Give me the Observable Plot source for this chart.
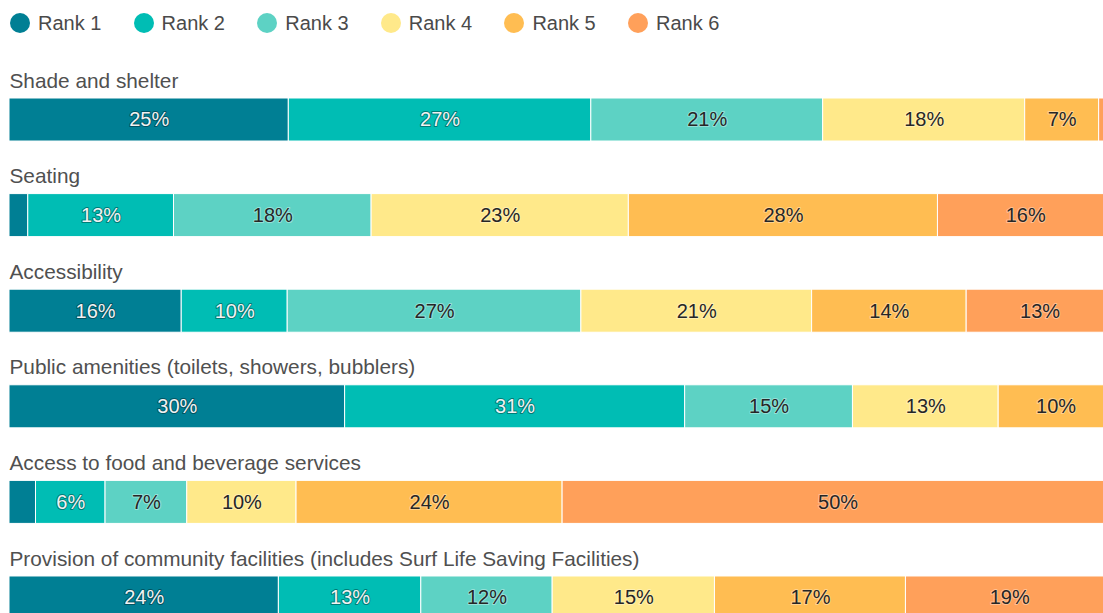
<!DOCTYPE html>
<html><head><meta charset="utf-8">
<script src="https://cdn.jsdelivr.net/npm/d3@7"></script>
<script src="https://cdn.jsdelivr.net/npm/@observablehq/plot@0.6"></script>
<style>
html,body{margin:0;padding:0;background:#fff;overflow:hidden;}
body{font-family:"Liberation Sans",Arial,Helvetica,sans-serif;}
#legend{height:46px;display:flex;align-items:center;padding-left:10px;font-size:20px;color:#4a4a4a;}
.item{width:123.6px;display:flex;align-items:center;flex:none;}
.sw{width:20px;height:20px;border-radius:50%;margin-right:8px;flex:none;}
#chart svg{max-width:none !important;display:block;}
</style></head><body>
<div id="legend"></div><div id="chart"></div>
<script>
const categories = [
  "Shade and shelter",
  "Seating",
  "Accessibility",
  "Public amenities (toilets, showers, bubblers)",
  "Access to food and beverage services",
  "Provision of community facilities (includes Surf Life Saving Facilities)"
];
const ranks = ["Rank 1", "Rank 2", "Rank 3", "Rank 4", "Rank 5", "Rank 6"];
const colors = ["#007f94", "#00bdb4", "#5dd2c4", "#ffe98a", "#ffbd52", "#ffa05a"];
const rank1 = [25.3, 1.7, 15.6, 30.4, 2.4, 24.4];
const rank2 = [27.4, 13.2, 9.6, 30.8, 6.3, 12.9];
const rank3 = [21.0, 17.9, 26.6, 15.2, 7.4, 11.9];
const rank4 = [18.3, 23.3, 20.9, 13.2, 9.9, 14.7];
const rank5 = [6.7, 28.0, 14.0, 10.4, 24.1, 17.3];
const rank6 = [1.3, 15.9, 13.3, 0, 49.9, 18.8];
const series = [rank1, rank2, rank3, rank4, rank5, rank6];

const data = [];
categories.forEach((c, i) => {
  series.forEach((s, r) => data.push({cat: c, rank: ranks[r], value: s[i]}));
});

// legend
const leg = document.getElementById("legend");
ranks.forEach((r, i) => {
  const it = document.createElement("div"); it.className = "item";
  const sw = document.createElement("span"); sw.className = "sw"; sw.style.background = colors[i];
  const tx = document.createElement("span"); tx.textContent = r;
  it.appendChild(sw); it.appendChild(tx); leg.appendChild(it);
});

const dark = new Set(["Rank 1", "Rank 2"]);
const font = '"Liberation Sans",Arial,Helvetica,sans-serif';

const chart = Plot.plot({
  width: 1113,
  height: 580,
  marginLeft: 9,
  marginRight: 0,
  marginTop: 0,
  marginBottom: 0,
  style: {fontFamily: font, fontSize: "20px", background: "#fff", maxWidth: "none"},
  x: {domain: [0, 100], axis: null},
  y: {domain: categories, range: [52, 573], paddingInner: 0.55, paddingOuter: 0, round: false, axis: null},
  color: {domain: ranks, range: colors},
  marks: [
    Plot.barX(data, Plot.stackX({x: "value", y: "cat", z: "rank", order: ranks, fill: "rank", stroke: "#fff", strokeWidth: 1})),
    Plot.text(data, Plot.stackX({
      x: "value", y: "cat", z: "rank", order: ranks,
      text: d => d.value >= 3 ? Math.round(d.value) + "%" : "",
      fill: d => dark.has(d.rank) ? "#f2f2f2" : "#262626",
      stroke: d => dark.has(d.rank) ? "#000" : "#fff",
      strokeWidth: 2, strokeOpacity: 0.35,
      fontSize: 20
    })),
    Plot.text(categories, {
      y: d => d, frameAnchor: "left", textAnchor: "start", dy: -39,
      text: d => d, fill: "#505050", fontSize: 20.8
    })
  ]
});
document.getElementById("chart").appendChild(chart);
</script>
</body></html>
